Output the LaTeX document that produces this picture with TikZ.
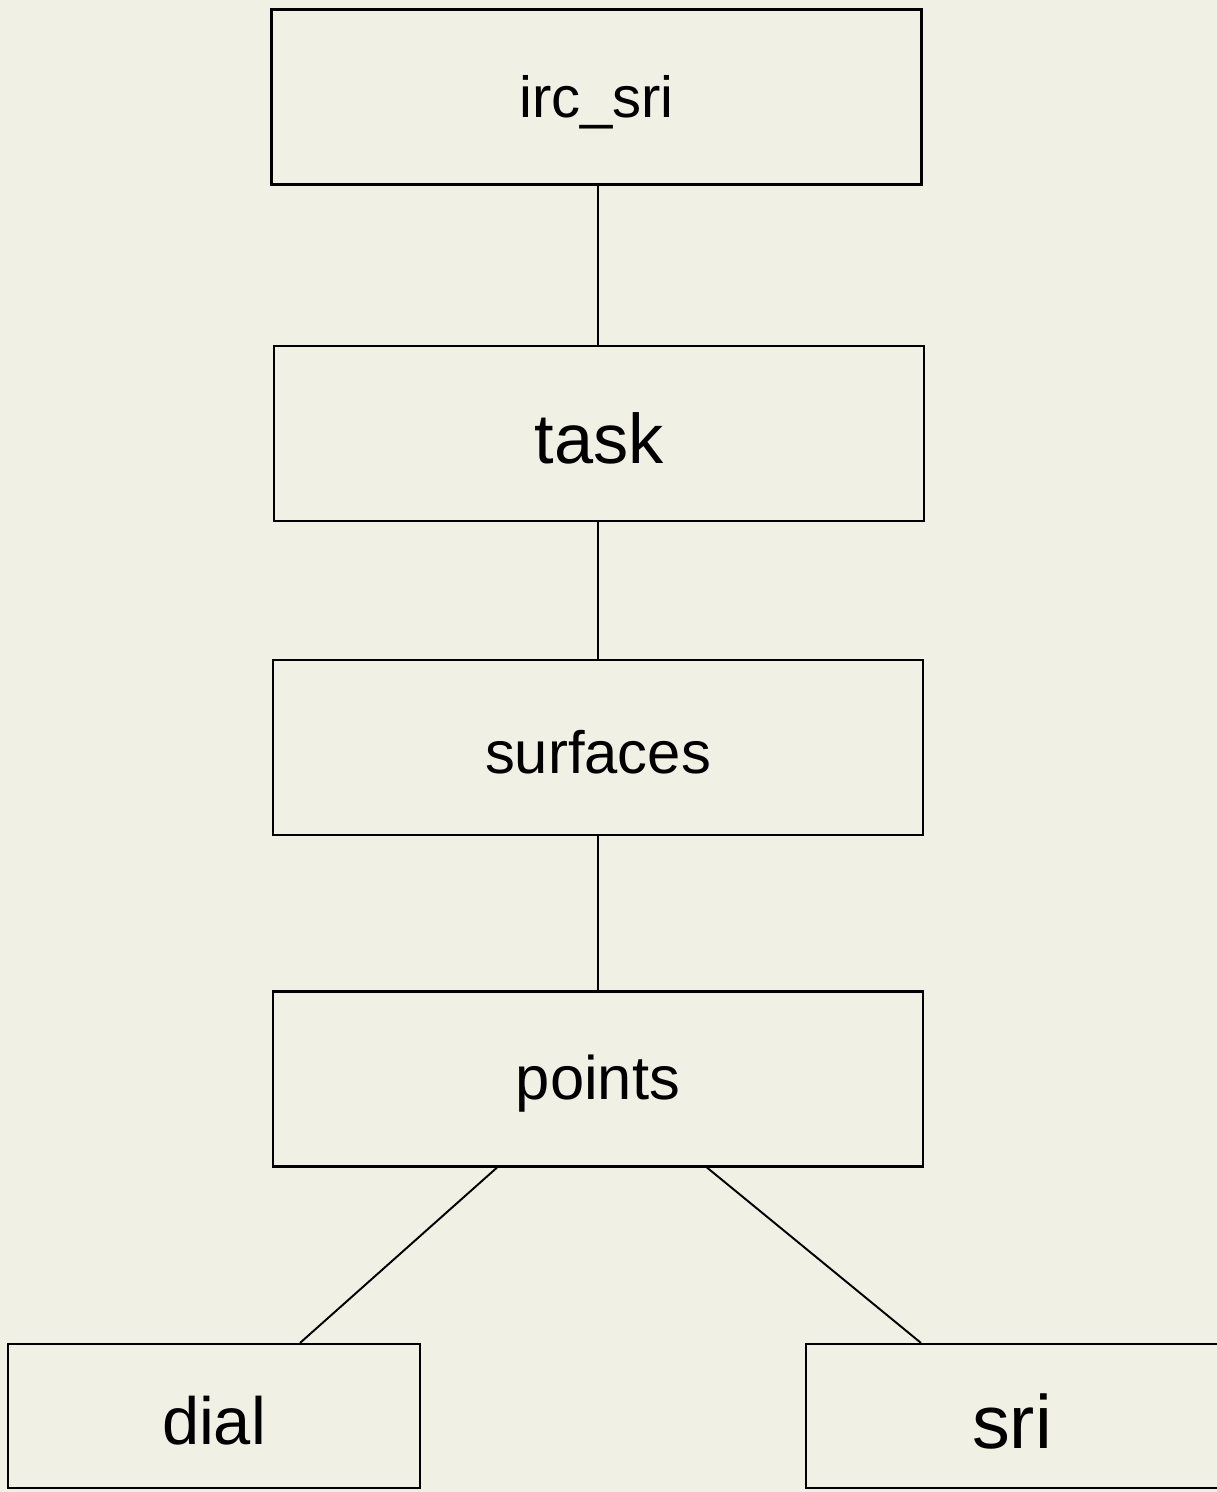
\documentclass[tikz,border=0pt]{standalone}
\usepackage{fontspec}
\setmainfont{Liberation Sans}
\usepackage{tikz}
\usetikzlibrary{positioning}
\definecolor{paper}{RGB}{241,240,228}

% testo del riquadro, un po' abbassato
\newcommand{\boxlabel}[2]{\raisebox{-0.1cm}[\height][\depth]{\fontsize{#1}{#1}\selectfont #2}}

\tikzset{
  modbox/.style={draw, line width=1.2pt, minimum width=13cm, minimum height=3.5cm, inner sep=0pt},
  leafbox/.style={draw, line width=1.2pt, minimum width=8.24cm, minimum height=2.88cm, inner sep=0pt},
  link/.style={line width=1.1pt}
}

\begin{document}
\begin{tikzpicture}
    % Sfondo e dimensioni
    \fill[paper] (0,0) rectangle (24.34,-29.84);
    \useasboundingbox (0,0) rectangle (24.34,-29.84);

    % Catena principale
    \node[modbox] (irc) at (11.93,-1.94) {\boxlabel{33}{irc\_sri}};
    \node[modbox] (task) at (11.98,-8.67) {\boxlabel{40}{task}};
    \node[modbox] (surfaces) at (11.96,-14.95) {\boxlabel{34}{surfaces}};
    \node[modbox] (points) at (11.96,-21.58) {\boxlabel{35}{points}};

    % Foglie
    \node[leafbox] (dial) at (4.28,-28.32) {\boxlabel{38}{dial}};
    \node[leafbox] (sri) at (20.24,-28.32) {\boxlabel{43}{sri}};

    % Collegamenti
    \draw[link] (surfaces.south |- irc.south) -- (surfaces.north |- task.north);
    \draw[link] (surfaces.south |- task.south) -- (surfaces.north);
    \draw[link] (surfaces.south) -- (points.north);
    \draw[link] ([xshift=-2.02cm]points.south) -- ([xshift=1.72cm]dial.north);
    \draw[link] ([xshift=2.18cm]points.south) -- ([xshift=-1.82cm]sri.north);
\end{tikzpicture}
\end{document}
